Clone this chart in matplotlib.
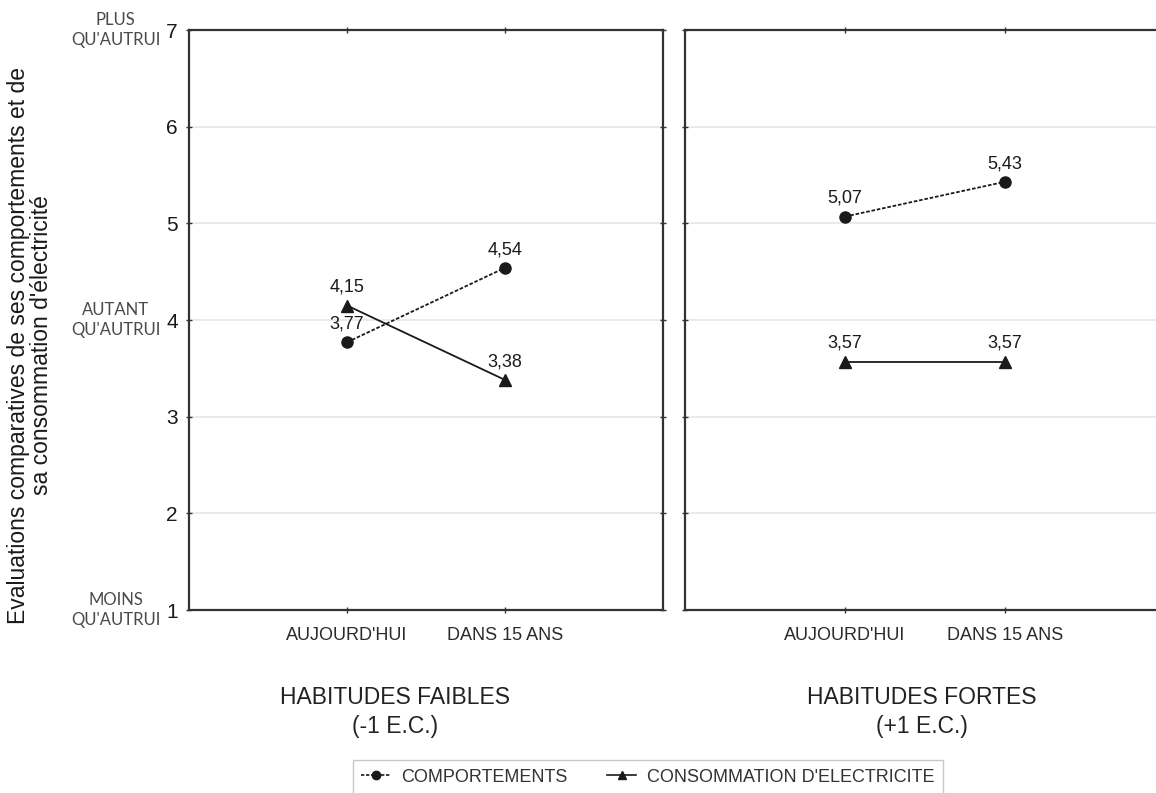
"""Comparative self-evaluations, weak vs strong habits, today vs in 15 years."""
import matplotlib
matplotlib.use("Agg")
import matplotlib.pyplot as plt
from matplotlib.lines import Line2D

plt.rcParams["font.family"] = ["Liberation Sans", "DejaVu Sans"]

PERIODS = ["AUJOURD'HUI", "DANS 15 ANS"]
GROUPS = ["HABITUDES FAIBLES\n(-1 E.C.)", "HABITUDES FORTES\n(+1 E.C.)"]
COMPORTEMENTS = [[3.77, 4.54], [5.07, 5.43]]
ELECTRICITE = [[4.15, 3.38], [3.57, 3.57]]
ANCHORS = {7: "PLUS\nQU'AUTRUI", 4: "AUTANT\nQU'AUTRUI", 1: "MOINS\nQU'AUTRUI"}

INK = "#1a1a1a"
FRAME = "#333333"
GRID = "#e6e6e6"


def fmt(v):
    return f"{v:.2f}".replace(".", ",")


fig = plt.figure(figsize=(11.56, 7.93), dpi=100)
W, H = 1156, 793
panels = [(189, 663), (685, 1165)]
top, bottom = 30, 610
x = [1, 2]

for gi, (x0, x1) in enumerate(panels):
    ax = fig.add_axes([x0 / W, 1 - bottom / H, (x1 - x0) / W, (bottom - top) / H])
    ax.set_xlim(0, 3)
    ax.set_ylim(1, 7)
    ax.set_yticks(range(1, 8))
    ax.set_xticks(x)
    for y in range(2, 7):
        ax.axhline(y, color=GRID, lw=1.2, zorder=0)
    ax.plot(x, COMPORTEMENTS[gi], color=INK, lw=1.3, ls=(0, (2, 1)),
            marker="o", ms=8, zorder=3)
    ax.plot(x, ELECTRICITE[gi], color=INK, lw=1.3, ls="-",
            marker="^", ms=8, zorder=3)
    for series in (COMPORTEMENTS[gi], ELECTRICITE[gi]):
        for xi, v in zip(x, series):
            ax.annotate(fmt(v), (xi, v), xytext=(0, 7), textcoords="offset points",
                        ha="center", va="bottom", fontsize=13, color=INK)
    for s in ax.spines.values():
        s.set_color(FRAME)
        s.set_linewidth(1.6)
    ax.tick_params(axis="both", direction="inout", length=4, width=1, color=FRAME,
                   top=True, right=True, labeltop=False, labelright=False)
    ax.tick_params(axis="y", labelsize=15, pad=6, labelcolor=INK)
    ax.tick_params(axis="x", labelsize=13, pad=10, labelcolor="#2a2a2a", length=4)
    ax.set_xticklabels(PERIODS)
    if gi == 0:
        for v, txt in ANCHORS.items():
            ax.text(-0.155, v, txt, transform=ax.get_yaxis_transform(),
                    ha="center", va="center", fontsize=12, color="#4a4a4a",
                    family=["Lato", "DejaVu Sans"], linespacing=1.25)
    else:
        ax.set_yticklabels([])

# group titles under each panel
fig.text(395 / W, 1 - 712 / H, GROUPS[0], ha="center", va="center",
         fontsize=16.5, color="#222222", linespacing=1.3)
fig.text(922 / W, 1 - 712 / H, GROUPS[1], ha="center", va="center",
         fontsize=16.5, color="#222222", linespacing=1.3)

fig.text(30 / W, 1 - 345 / H,
         "Evaluations comparatives de ses comportements et de\nsa consommation d'électricité",
         rotation=90, ha="center", va="center", fontsize=16.5, color=INK,
         linespacing=0.95)

handles = [
    Line2D([], [], color=INK, lw=1.2, ls=(0, (2, 1)), marker="o", ms=6),
    Line2D([], [], color=INK, lw=1.2, ls="-", marker="^", ms=6),
]
leg = fig.legend(handles, ["COMPORTEMENTS", "CONSOMMATION D'ELECTRICITE"],
                 loc="center", bbox_to_anchor=(648 / W, 1 - 777 / H), ncol=2,
                 fontsize=13, handlelength=1.6, handletextpad=0.6,
                 columnspacing=2.2, frameon=True, fancybox=False,
                 edgecolor="#bbbbbb", borderpad=0.45)
leg.get_frame().set_linewidth(1.0)
for t in leg.get_texts():
    t.set_color("#333333")

fig.savefig("out.png", dpi=100)
